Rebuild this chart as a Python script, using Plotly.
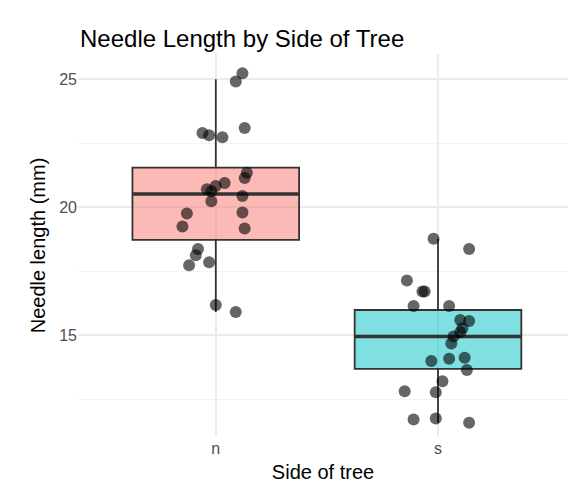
import plotly.graph_objects as go

categories = ["n", "s"]
n_values = [25.24, 24.92, 23.10, 22.90, 22.82, 22.74, 21.35, 21.15, 20.95, 20.83, 20.71, 20.63,
            20.44, 20.24, 19.76, 19.80, 19.25, 19.17, 18.37, 18.13, 17.74, 17.86, 16.19, 15.91]
n_jitter = [0.12, 0.09, 0.13, -0.06, -0.03, 0.03, 0.14, 0.13, 0.04, 0.0, -0.04, -0.02,
            0.12, -0.02, -0.13, 0.12, -0.15, 0.13, -0.08, -0.09, -0.12, -0.03, 0.0, 0.09]
s_values = [18.77, 18.37, 17.14, 16.71, 16.71, 16.15, 16.15, 15.60, 15.56, 15.28, 15.12, 14.96,
            14.68, 14.09, 14.00, 14.13, 13.65, 13.21, 12.82, 12.78, 11.71, 11.75, 11.59]
s_jitter = [-0.02, 0.14, -0.14, -0.07, -0.06, -0.11, 0.05, 0.1, 0.14, 0.11, 0.1, 0.07,
            0.06, 0.05, -0.03, 0.12, 0.13, 0.02, -0.15, -0.01, -0.11, -0.01, 0.14]
# box stats: q1, median, q3, lower whisker, upper whisker
n_stats = [18.73, 20.52, 21.55, 15.91, 25.0]
s_stats = [13.69, 14.96, 15.99, 11.59, 18.77]
fills = ["rgba(248,118,109,0.5)", "rgba(0,191,196,0.5)"]
box_width = 0.75

fig = go.Figure()
for i, (st, fc) in enumerate(zip([n_stats, s_stats], fills)):
    fig.add_trace(go.Box(x=[i + 1], q1=[st[0]], median=[st[1]], q3=[st[2]],
                         lowerfence=[st[3]], upperfence=[st[4]], width=box_width,
                         fillcolor=fc, line=dict(color="#333333", width=1.8),
                         boxpoints=False, showlegend=False, whiskerwidth=0))
    fig.add_trace(go.Scatter(x=[i + 1 - box_width / 2, i + 1 + box_width / 2], y=[st[1], st[1]],
                             mode="lines", line=dict(color="#333333", width=3.5),
                             showlegend=False, hoverinfo="skip"))
for i, (vals, jit) in enumerate([(n_values, n_jitter), (s_values, s_jitter)]):
    fig.add_trace(go.Scatter(x=[i + 1 + j for j in jit], y=vals, mode="markers",
                             marker=dict(color="rgba(0,0,0,0.6)", size=12), showlegend=False))

fig.update_layout(
    width=576, height=499, plot_bgcolor="white", paper_bgcolor="white",
    margin=dict(l=70, r=16, t=46, b=70),
    title=dict(text="Needle Length by Side of Tree", x=0.125, xanchor="left", y=0.955,
               font=dict(family="Liberation Sans", size=24, color="black")),
    font=dict(family="Liberation Sans"),
    xaxis=dict(range=[0.38, 2.585], tickvals=[1, 2], ticktext=categories,
               title=dict(text="Side of tree", font=dict(size=20, color="black"), standoff=8),
               tickfont=dict(size=16, color="#4d4d4d"), gridcolor="#ebebeb", gridwidth=1.5,
               zeroline=False, showline=False),
    yaxis=dict(range=[11.03, 25.99], tickvals=[15, 20, 25],
               title=dict(text="Needle length (mm)", font=dict(size=20, color="black"), standoff=8),
               tickfont=dict(size=16, color="#4d4d4d"), gridcolor="#ebebeb", gridwidth=1.5,
               zeroline=False, showline=False,
               minor=dict(tickvals=[12.5, 17.5, 22.5], showgrid=True, gridcolor="#f3f3f3", gridwidth=1)),
)
fig.write_html("out.html")
